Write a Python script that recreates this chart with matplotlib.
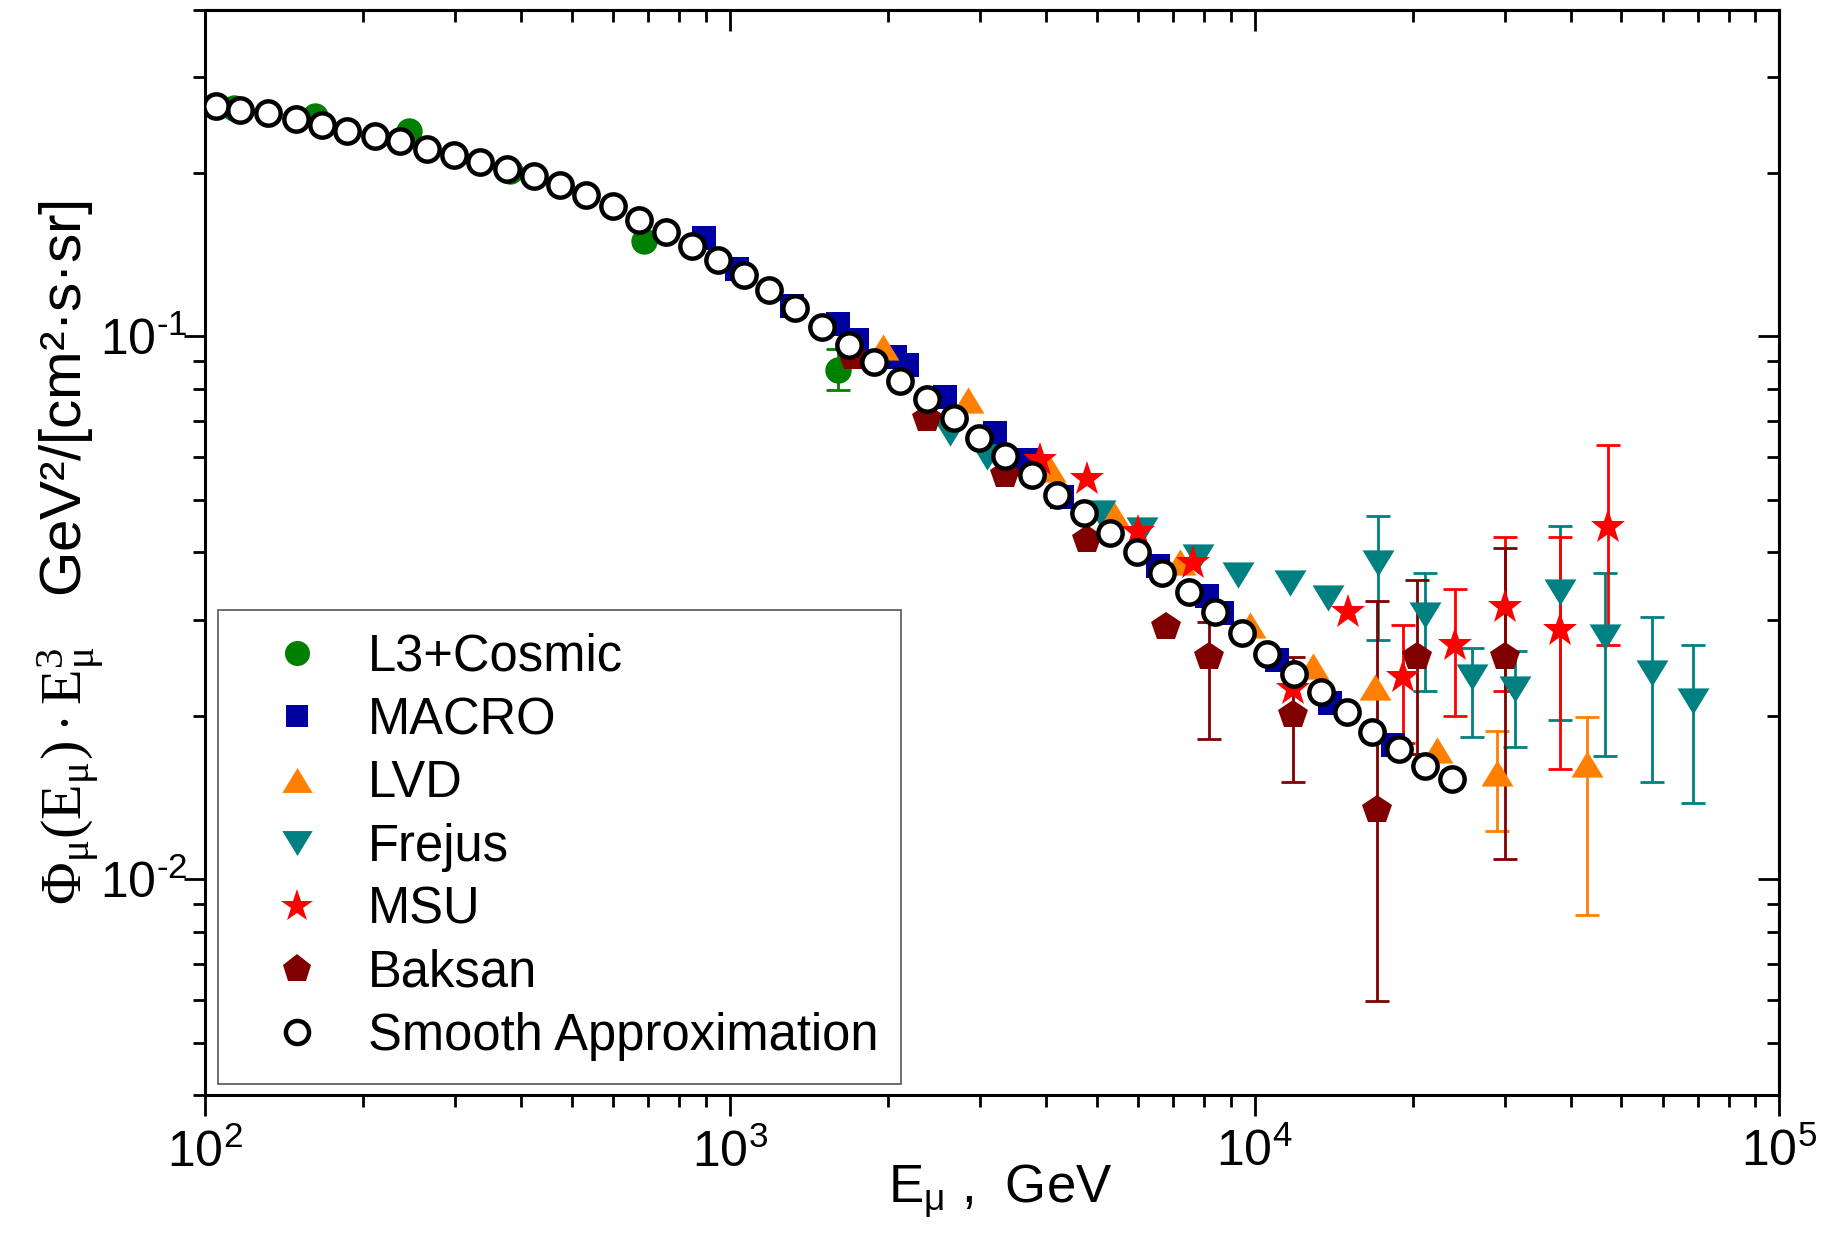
import numpy as np
import matplotlib
matplotlib.use('Agg')
import matplotlib.pyplot as plt
from matplotlib.ticker import LogLocator, NullFormatter, FuncFormatter

plt.rcParams['font.family'] = ['Liberation Sans', 'DejaVu Sans']
plt.rcParams['mathtext.fontset'] = 'custom'
plt.rcParams['mathtext.rm'] = 'Liberation Sans'
plt.rcParams['mathtext.it'] = 'Liberation Sans:italic'
plt.rcParams['mathtext.sf'] = 'Liberation Serif'

# ---- data (E in GeV, flux * E^3) ----
l3_e = [114, 162, 245, 382, 687, 1612]
l3_f = [0.264, 0.255, 0.239, 0.202, 0.150, 0.0866]
l3_bar_e = [1612]
l3_bar_lo = [0.0796]
l3_bar_hi = [0.0949]

macro_e = [892, 1032, 1314, 1612, 1747, 2067, 2175, 2573, 3204, 3682, 4294,
           6558, 8110, 8659, 11020, 13930, 18390]
macro_f = [0.152, 0.133, 0.114, 0.1055, 0.0983, 0.0916, 0.0885, 0.0773, 0.0663,
           0.0592, 0.0507, 0.0377, 0.0332, 0.0309, 0.0254, 0.0211, 0.0177]

lvd_e = [1963, 2850, 4078, 5382, 7213, 9804, 12940, 16960, 22230, 28920, 42940]
lvd_f = [0.0956, 0.0763, 0.0571, 0.0472, 0.0385, 0.0294, 0.0247, 0.0226,
         0.0173, 0.0157, 0.0163]
lvd_bar_e = [28920, 42940]
lvd_bar_lo = [0.01227, 0.00859]
lvd_bar_hi = [0.01873, 0.0199]

frejus_e = [2630, 3090, 5078, 6097, 7816, 9314, 11680, 13820, 17210, 21120,
            25920, 31350, 38190, 46520, 57090, 68510]
frejus_f = [0.0663, 0.0600, 0.0472, 0.0440, 0.0393, 0.0364, 0.0351, 0.0330,
            0.0382, 0.0307, 0.0236, 0.0224, 0.0339, 0.0280, 0.0240, 0.0213]
frejus_bar_e = [17210, 21120, 25920, 31350, 38190, 46520, 57090, 68510]
frejus_bar_lo = [0.0276, 0.0222, 0.0183, 0.0175, 0.0197, 0.0169, 0.0151, 0.0138]
frejus_bar_hi = [0.0466, 0.0366, 0.0267, 0.0263, 0.0448, 0.0366, 0.0304, 0.0270]

msu_e = [3904, 4790, 6006, 7644, 11860, 15090, 19200, 24090, 30000, 38190, 47200]
msu_f = [0.0592, 0.0547, 0.0437, 0.0382, 0.0224, 0.0311, 0.0236, 0.0270,
         0.0318, 0.0288, 0.0446]
msu_bar_e = [19200, 24090, 30000, 38190, 47200]
msu_bar_lo = [0.0178, 0.0200, 0.0222, 0.0160, 0.0270]
msu_bar_hi = [0.0294, 0.0342, 0.0428, 0.0428, 0.0630]

baksan_e = [1721, 2381, 3348, 4790, 6782, 8191, 11860, 17090, 20370, 30000]
baksan_f = [0.0916, 0.0706, 0.0555, 0.0422, 0.0292, 0.0257, 0.0201, 0.01345,
            0.0257, 0.0257]
baksan_bar_e = [8191, 11860, 17090, 20370, 30000]
baksan_bar_lo = [0.0181, 0.0151, 0.00598, 0.0170, 0.0109]
baksan_bar_hi = [0.0298, 0.0257, 0.0326, 0.0356, 0.0407]

smooth_e = [105, 117, 132, 149, 167, 187, 211, 236, 265, 299, 334, 376, 424,
            476, 533, 600, 671, 755, 849, 950, 1064, 1191, 1331, 1500, 1687,
            1888, 2109, 2377, 2673, 2992, 3342, 3767, 4207, 4742, 5297, 5970,
            6668, 7516, 8395, 9462, 10570, 11910, 13400, 15000, 16750, 18880,
            21090, 23770]
smooth_f = [0.2655, 0.2616, 0.2577, 0.2514, 0.2453, 0.2393, 0.2335, 0.2289,
            0.2212, 0.2158, 0.2095, 0.2034, 0.1975, 0.1898, 0.1825, 0.1737,
            0.1637, 0.1559, 0.1469, 0.1384, 0.1299, 0.1218, 0.1126, 0.1040,
            0.0966, 0.0897, 0.0829, 0.0766, 0.0708, 0.0651, 0.0602, 0.0556,
            0.0511, 0.0473, 0.0435, 0.0400, 0.0367, 0.0338, 0.0311, 0.0284,
            0.0260, 0.0239, 0.0221, 0.0203, 0.0187, 0.0174, 0.0162, 0.0153]

# wide triangles like the original
tri_up = [(0, 0.82), (-1, -0.82), (1, -0.82)]
tri_dn = [(0, -0.82), (-1, 0.82), (1, 0.82)]


def bars(ax, e, f_all, e_all, lo, hi, color):
    f = [f_all[e_all.index(x)] for x in e]
    yerr = [np.array(f) - np.array(lo), np.array(hi) - np.array(f)]
    ax.errorbar(e, f, yerr=yerr, fmt='none', ecolor=color, elinewidth=2,
                capsize=8.5, capthick=2, zorder=2)


def pow10(v, pos):
    p = int(round(np.log10(v)))
    if p < 0:
        return r'$\mathdefault{10^{\text{-}%d}}$' % (-p)
    return r'$\mathdefault{10^{%d}}$' % p


fig = plt.figure(figsize=(18.27, 12.36), dpi=100)
ax = fig.add_axes([0.112, 0.1137, 0.862, 0.8786])

bars(ax, l3_bar_e, l3_f, l3_e, l3_bar_lo, l3_bar_hi, '#008000')
bars(ax, lvd_bar_e, lvd_f, lvd_e, lvd_bar_lo, lvd_bar_hi, '#FF8000')
bars(ax, frejus_bar_e, frejus_f, frejus_e, frejus_bar_lo, frejus_bar_hi, '#008080')
bars(ax, msu_bar_e, msu_f, msu_e, msu_bar_lo, msu_bar_hi, '#FF0000')
bars(ax, baksan_bar_e, baksan_f, baksan_e, baksan_bar_lo, baksan_bar_hi, '#800000')

ax.plot(l3_e, l3_f, 'o', color='#008000', ms=19, mew=0, label='L3+Cosmic', zorder=3)
ax.plot(macro_e, macro_f, 's', color='#0000A0', ms=17, mew=0, label='MACRO', zorder=3)
ax.plot(lvd_e, lvd_f, ls='none', marker=tri_up, color='#FF8000', ms=23, mew=0,
        label='LVD', zorder=3)
ax.plot(frejus_e, frejus_f, ls='none', marker=tri_dn, color='#008080', ms=23, mew=0,
        label='Frejus', zorder=3)
ax.plot(msu_e, msu_f, '*', color='#FF0000', ms=26, mew=0, label='MSU', zorder=4)
ax.plot(baksan_e, baksan_f, 'p', color='#800000', ms=22, mew=0, label='Baksan', zorder=3)
ax.plot(smooth_e, smooth_f, 'o', mfc='white', mec='black', ms=17.5, mew=3.2,
        label='Smooth Approximation', zorder=5)

ax.set_xscale('log')
ax.set_yscale('log')
ax.set_xlim(100, 1e5)
ax.set_ylim(0.004, 0.4)

for a in (ax.xaxis, ax.yaxis):
    a.set_major_locator(LogLocator(base=10, numticks=20))
    a.set_minor_locator(LogLocator(base=10, subs=np.arange(2, 10), numticks=20))
    a.set_minor_formatter(NullFormatter())
    a.set_major_formatter(FuncFormatter(pow10))

ax.tick_params(which='both', direction='out', top=False, right=False, width=2)
ax.tick_params(which='major', length=15, labelsize=36)
ax.tick_params(which='minor', length=8.5)
ax.tick_params(axis='x', which='major', pad=9)
ax.tick_params(axis='y', which='major', pad=-3)

secx = ax.secondary_xaxis('top')
secy = ax.secondary_yaxis('right')
for s, a in ((secx, secx.xaxis), (secy, secy.yaxis)):
    a.set_major_locator(LogLocator(base=10, numticks=20))
    a.set_minor_locator(LogLocator(base=10, subs=np.arange(2, 10), numticks=20))
    a.set_major_formatter(NullFormatter())
    a.set_minor_formatter(NullFormatter())
    s.tick_params(which='both', direction='in', width=2)
    s.tick_params(which='major', length=15)
    s.tick_params(which='minor', length=8.5)
    for sp in s.spines.values():
        sp.set_linewidth(2.2)
for sp in ax.spines.values():
    sp.set_linewidth(2.2)

ax.set_xlabel(r'E$_{\mathrm{\mu}}$ ,  GeV', fontsize=38)
ax.xaxis.set_label_coords(0.505, -0.062, transform=ax.transAxes)
ax.xaxis.label.set_va('top')
ax.set_ylabel(r'$\mathsf{\Phi_{\mu}(E_{\mu})\cdot E_{\mu}^{3}}$   GeV²/[cm²·s·sr]',
              fontsize=42)
ax.yaxis.set_label_coords(-0.062, 0.5, transform=ax.transAxes)

leg = ax.legend(loc='lower left', bbox_to_anchor=(0.0086, 0.0106), borderaxespad=0,
                fontsize=36.5, numpoints=1, handlelength=2.2, handletextpad=0.3,
                labelspacing=0.28, borderpad=0.45, markerscale=0.95,
                fancybox=False, framealpha=1, edgecolor='#555555')
leg.get_frame().set_linewidth(1.2)

fig.savefig('out.png', dpi=100)
